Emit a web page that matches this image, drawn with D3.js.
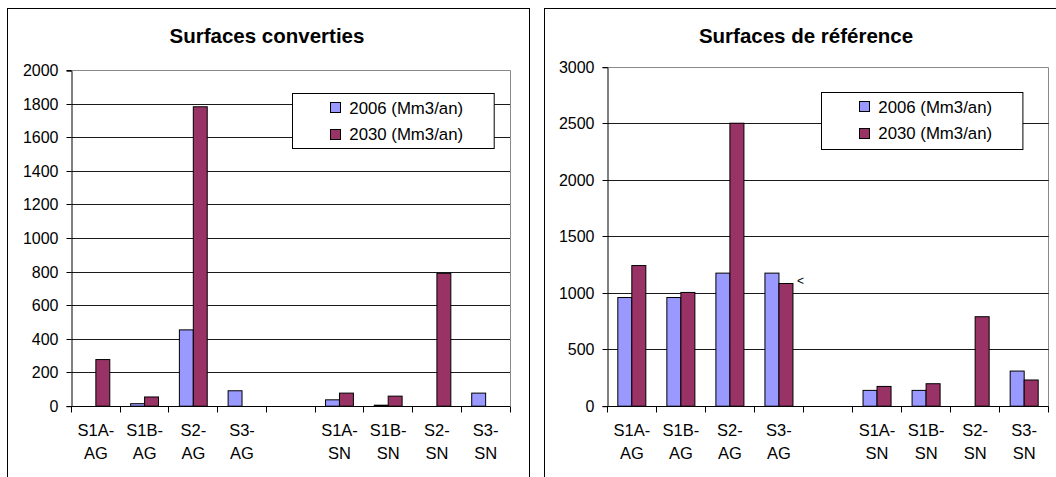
<!DOCTYPE html>
<html>
<head>
<meta charset="utf-8">
<script src="https://cdn.jsdelivr.net/npm/d3@7"></script>
<style>
  html, body { margin: 0; padding: 0; background: #fff; }
  svg { display: block; }
  text { font-family: "Liberation Sans", Arial, sans-serif; fill: #000; }
</style>
</head>
<body>
<svg id="chart" width="1056" height="477"></svg>
<script>
// Categories (the blank slot separates the AG and SN groups)
const categories = ["S1A-AG", "S1B-AG", "S2-AG", "S3-AG", "gap", "S1A-SN", "S1B-SN", "S2-SN", "S3-SN"];
const seriesNames = ["2006 (Mm3/an)", "2030 (Mm3/an)"];
const seriesColors = ["#9999FF", "#993366"];

// Surfaces converties
const conv2006 = [0, 15, 455, 92, null, 38, 6, 0, 78];
const conv2030 = [278, 55, 1785, 0, null, 78, 60, 792, 0];
const convTicks = [0, 200, 400, 600, 800, 1000, 1200, 1400, 1600, 1800, 2000];

// Surfaces de référence
const ref2006 = [962, 962, 1178, 1178, null, 140, 140, 0, 311];
const ref2030 = [1245, 1007, 2505, 1086, null, 175, 199, 792, 232];
const refTicks = [0, 500, 1000, 1500, 2000, 2500, 3000];

const svg = d3.select("#chart");

function crisp(v) { return Math.round(v - 0.5) + 0.5; }

function drawChart(cfg) {
  const g = svg.append("g");

  // outer frame
  g.append("rect")
    .attr("x", cfg.frame[0] + 0.5).attr("y", cfg.frame[1] + 0.5)
    .attr("width", cfg.frame[2]).attr("height", cfg.frame[3])
    .attr("fill", "#fff").attr("stroke", "#000").attr("stroke-width", 1);

  // title
  g.append("text")
    .attr("x", cfg.titleX).attr("y", 43)
    .attr("text-anchor", "middle")
    .style("font-size", "20.5px").style("font-weight", "bold")
    .text(cfg.title);

  const x0 = d3.scaleBand().domain(categories)
    .range([cfg.left, cfg.right]).paddingInner(0).paddingOuter(0);
  const x1 = d3.scaleBand().domain([0, 1])
    .range([0, x0.bandwidth()]).paddingInner(0).paddingOuter(0.75);
  const y = d3.scaleLinear().domain([0, cfg.max]).range([cfg.bottom, cfg.top]);

  // plot area border (top and right)
  g.append("path")
    .attr("d", `M${crisp(cfg.left)},${crisp(cfg.top)}H${crisp(cfg.right)}V${crisp(cfg.bottom)}`)
    .attr("fill", "none").attr("stroke", "#8a8a8a");

  // gridlines
  g.append("g").selectAll("line")
    .data(cfg.ticks.filter(t => t > 0 && t < cfg.max))
    .join("line")
    .attr("x1", cfg.left).attr("x2", cfg.right)
    .attr("y1", d => crisp(y(d))).attr("y2", d => crisp(y(d)))
    .attr("stroke", "#1a1a1a").attr("stroke-width", 1);

  // bars
  const seriesData = [cfg.s2006, cfg.s2030];
  const bars = [];
  categories.forEach((c, i) => {
    seriesData.forEach((s, k) => {
      const v = s[i];
      if (v != null && v > 0) bars.push({ c, k, v });
    });
  });
  g.append("g").selectAll("rect")
    .data(bars)
    .join("rect")
    .attr("x", d => x0(d.c) + x1(d.k))
    .attr("y", d => y(d.v))
    .attr("width", x1.bandwidth())
    .attr("height", d => y(0) - y(d.v))
    .attr("fill", d => seriesColors[d.k])
    .attr("stroke", "#000").attr("stroke-width", 1);

  // y axis
  const yAxis = d3.axisLeft(y).tickValues(cfg.ticks).tickSize(5).tickPadding(8)
    .tickFormat(d3.format("d"));
  const ya = g.append("g").attr("transform", `translate(${crisp(cfg.left)},0)`).call(yAxis);
  ya.select(".domain").attr("stroke", "#000");
  ya.selectAll(".tick line").attr("stroke", "#000");
  ya.selectAll(".tick").attr("transform", d => `translate(0,${crisp(y(d))})`);
  ya.selectAll("text").style("font-size", "16px").style("font-family", "Liberation Sans, Arial, sans-serif")
    .attr("fill", "#000");

  // x axis
  const xg = g.append("g").attr("transform", `translate(0,${crisp(cfg.bottom)})`);
  xg.append("line").attr("x1", cfg.left).attr("x2", cfg.right).attr("stroke", "#000");
  const edges = categories.map(c => x0(c)).concat([cfg.right]);
  xg.selectAll("line.tk").data(edges).join("line").attr("class", "tk")
    .attr("x1", d => crisp(d)).attr("x2", d => crisp(d))
    .attr("y1", 0).attr("y2", 6).attr("stroke", "#000");
  const labels = xg.selectAll("text.cat")
    .data(categories.filter(c => c !== "gap"))
    .join("text").attr("class", "cat")
    .attr("text-anchor", "middle")
    .style("font-size", "16.5px");
  labels.each(function(c) {
    const parts = c.split("-");
    const t = d3.select(this);
    const cx = x0(c) + x0.bandwidth() / 2;
    t.append("tspan").attr("x", cx).attr("y", 29).text(parts[0] + "-");
    t.append("tspan").attr("x", cx).attr("y", 52).text(parts[1]);
  });

  // legend
  const lg = g.append("g");
  lg.append("rect")
    .attr("x", crisp(cfg.legend[0])).attr("y", crisp(cfg.legend[1]))
    .attr("width", cfg.legend[2]).attr("height", cfg.legend[3])
    .attr("fill", "#fff").attr("stroke", "#000");
  seriesNames.forEach((name, k) => {
    const sy = cfg.legend[1] + 9.5 + k * 26.3;
    lg.append("rect")
      .attr("x", crisp(cfg.swatchX)).attr("y", crisp(sy))
      .attr("width", 10).attr("height", 10)
      .attr("fill", seriesColors[k]).attr("stroke", "#000");
    lg.append("text")
      .attr("x", cfg.swatchX + 19).attr("y", sy + 11)
      .style("font-size", "16.8px")
      .text(name);
  });

  return { x0, x1, y };
}

drawChart({
  frame: [7, 8, 522, 500],
  title: "Surfaces converties",
  titleX: 267,
  left: 71.5, right: 510, top: 70.7, bottom: 406.2,
  max: 2000, ticks: convTicks,
  s2006: conv2006, s2030: conv2030,
  legend: [292.3, 93.3, 201.7, 55],
  swatchX: 330.3
});

const refChart = drawChart({
  frame: [544, 8, 560, 500],
  title: "Surfaces de référence",
  titleX: 806,
  left: 607.3, right: 1048.7, top: 67.3, bottom: 406.2,
  max: 3000, ticks: refTicks,
  s2006: ref2006, s2030: ref2030,
  legend: [821.3, 92.3, 201.4, 57],
  swatchX: 859.3
});

// small marker beside the S3-AG 2030 bar
const s3i = categories.indexOf("S3-AG");
svg.append("text")
  .attr("x", refChart.x0("S3-AG") + refChart.x1(1) + refChart.x1.bandwidth() + 4)
  .attr("y", refChart.y(ref2030[s3i]) + 1)
  .style("font-size", "12px")
  .text("<");
</script>
</body>
</html>
